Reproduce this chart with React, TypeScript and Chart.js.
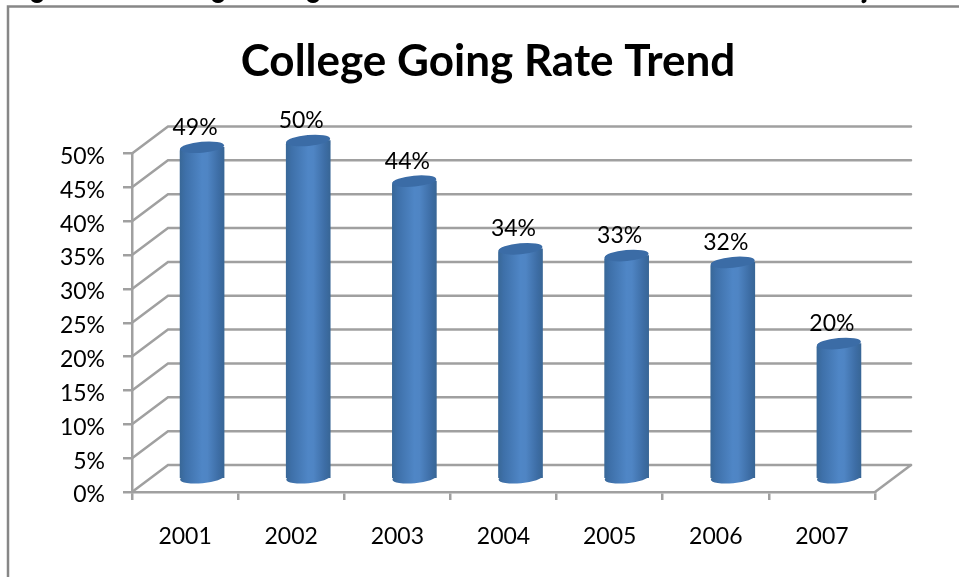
import React, { useEffect, useRef } from "react";
import { Chart, registerables } from "chart.js";

Chart.register(...registerables);

const years = ["2001", "2002", "2003", "2004", "2005", "2006", "2007"];
const collegeGoingRate = [49, 50, 44, 34, 33, 32, 20];
const chartTitle = "College Going Rate Trend";

const FONT = "Lato, Carlito, sans-serif";
const GRID = "#a0a0a0";
const GRID_WIDTH = 2.5;
const BAR_WIDTH = 44;
// Oblique projection of the floor: how far the back wall sits from the front plane.
const DEPTH_X = 36;
const DEPTH_Y = -27;
// Where the cylinders stand on the floor, relative to the front plane.
const BAR_SHIFT_X = 17;
const BAR_SHIFT_Y = -13;
// Lato's digits sit high in the em box, so the value-axis labels are nudged down.
const Y_LABEL_NUDGE = 3;

function barGradient(ctx: CanvasRenderingContext2D, cx: number) {
  const half = BAR_WIDTH / 2;
  const g = ctx.createLinearGradient(cx - half, 0, cx + half, 0);
  g.addColorStop(0, "#396898");
  g.addColorStop(0.12, "#3e70a9");
  g.addColorStop(0.5, "#4f86c6");
  g.addColorStop(0.62, "#4f85c4");
  g.addColorStop(0.88, "#3d6da5");
  g.addColorStop(1, "#386696");
  return g;
}

const frame3d = {
  id: "frame3d",
  afterLayout(chart: any) {
    for (const item of chart.scales.y.getLabelItems()) {
      item.options.translation[1] += Y_LABEL_NUDGE;
    }
  },
  beforeDraw(chart: any) {
    const { ctx, width, height } = chart;
    ctx.save();
    ctx.strokeStyle = "#878787";
    ctx.lineWidth = 2.5;
    ctx.beginPath();
    ctx.moveTo(8, height);
    ctx.lineTo(8, 6.5);
    ctx.lineTo(width, 6.5);
    ctx.stroke();
    // descenders of the caption line running above the frame
    ctx.fillStyle = "#000";
    for (const x of [37, 218, 313]) {
      ctx.beginPath();
      ctx.ellipse(x, -1, 6, 4, 0, 0, Math.PI * 2);
      ctx.fill();
    }
    ctx.beginPath();
    ctx.ellipse(864, 1, 2.5, 2, -0.5, 0, Math.PI * 2);
    ctx.fill();
    ctx.restore();
  },
  beforeDatasetsDraw(chart: any) {
    const { ctx, scales } = chart;
    const { x: xs, y: ys } = scales;
    ctx.save();
    ctx.strokeStyle = GRID;
    ctx.lineWidth = GRID_WIDTH;
    ctx.lineCap = "round";
    for (const t of ys.ticks) {
      const py = ys.getPixelForValue(t.value);
      ctx.beginPath();
      ctx.moveTo(xs.left, py);
      ctx.lineTo(xs.left + DEPTH_X, py + DEPTH_Y);
      ctx.lineTo(xs.right + DEPTH_X, py + DEPTH_Y);
      ctx.stroke();
    }
    const floor = ys.getPixelForValue(0);
    ctx.beginPath();
    ctx.moveTo(xs.right, floor);
    ctx.lineTo(xs.right + DEPTH_X, floor + DEPTH_Y);
    ctx.stroke();
    ctx.restore();

    // The bars are drawn with this offset so they stand inside the floor.
    ctx.save();
    ctx.translate(BAR_SHIFT_X, BAR_SHIFT_Y);
    for (const el of chart.getDatasetMeta(0).data) {
      ctx.beginPath();
      ctx.ellipse(el.x, el.base, BAR_WIDTH / 2, 5.5, -0.09, 0, Math.PI * 2);
      ctx.fillStyle = el.options.backgroundColor;
      ctx.fill();
    }
  },
  afterDatasetsDraw(chart: any) {
    const { ctx } = chart;
    const meta = chart.getDatasetMeta(0);
    for (const el of meta.data) {
      ctx.beginPath();
      ctx.ellipse(el.x, el.y, BAR_WIDTH / 2, 5.5, -0.09, 0, Math.PI * 2);
      ctx.fillStyle = "#3b6ca6";
      ctx.fill();
    }
    ctx.restore();

    // Value labels above each cylinder.
    ctx.save();
    ctx.fillStyle = "#000";
    ctx.font = `23px ${FONT}`;
    ctx.textAlign = "center";
    ctx.textBaseline = "middle";
    meta.data.forEach((el: any, i: number) => {
      ctx.fillText(
        `${collegeGoingRate[i]}%`,
        el.x + BAR_SHIFT_X - 7,
        el.y + BAR_SHIFT_Y - 20,
      );
    });
    ctx.restore();
  },
};

export default function App() {
  const ref = useRef<HTMLCanvasElement>(null);

  useEffect(() => {
    const chart = new Chart(ref.current!, {
      type: "bar",
      data: {
        labels: years,
        datasets: [
          {
            data: collegeGoingRate,
            barThickness: BAR_WIDTH,
            clip: false,
            borderRadius: { topLeft: 4, topRight: 0, bottomLeft: 0, bottomRight: 0 },
            borderSkipped: false,
            backgroundColor: (c: any) => {
              const xs = c.chart.scales.x;
              if (!xs || c.dataIndex === undefined) return "#4a7ebb";
              const cx = xs.getPixelForValue(c.dataIndex);
              return Number.isFinite(cx) ? barGradient(c.chart.ctx, cx) : "#4a7ebb";
            },
          } as any,
        ],
      },
      options: {
        responsive: false,
        animation: false,
        layout: { padding: { left: 17, right: 0, top: 0, bottom: 0 } },
        plugins: {
          legend: { display: false },
          tooltip: { enabled: false },
          title: {
            display: true,
            text: chartTitle,
            color: "#000",
            font: { family: FONT, size: 44, weight: "bold" },
            padding: { top: 35, bottom: 65.7 },
          },
        },
        scales: {
          x: {
            afterFit: (s: any) => {
              s.height = 85;
            },
            grid: {
              drawOnChartArea: false,
              color: GRID,
              lineWidth: GRID_WIDTH,
              tickLength: 8,
            },
            border: { color: GRID, width: GRID_WIDTH },
            ticks: {
              color: "#000",
              font: { family: FONT, size: 23 },
              padding: 23,
              maxRotation: 0,
            },
          },
          y: {
            min: 0,
            max: 50,
            afterFit: (s: any) => {
              s.width = 115;
            },
            grid: {
              drawOnChartArea: false,
              color: GRID,
              lineWidth: GRID_WIDTH,
              tickLength: 9,
            },
            border: { color: GRID, width: GRID_WIDTH },
            ticks: {
              stepSize: 5,
              color: "#000",
              font: { family: FONT, size: 23 },
              padding: 18,
              callback: (v: any) => `${v}%`,
            },
          },
          // Empty gutter on the right, leaving room for the depth of the back wall.
          gutter: {
            position: "right",
            afterFit: (s: any) => {
              s.width = 84;
            },
            grid: { display: false },
            border: { display: false },
            ticks: { display: false },
          },
        },
      },
      plugins: [frame3d],
    } as any);
    return () => chart.destroy();
  }, []);

  return (
    <div style={{ position: "fixed", left: 0, top: 0, width: 959, height: 577, background: "#fff" }}>
      <canvas ref={ref} width={959} height={577} style={{ display: "block" }} />
    </div>
  );
}
